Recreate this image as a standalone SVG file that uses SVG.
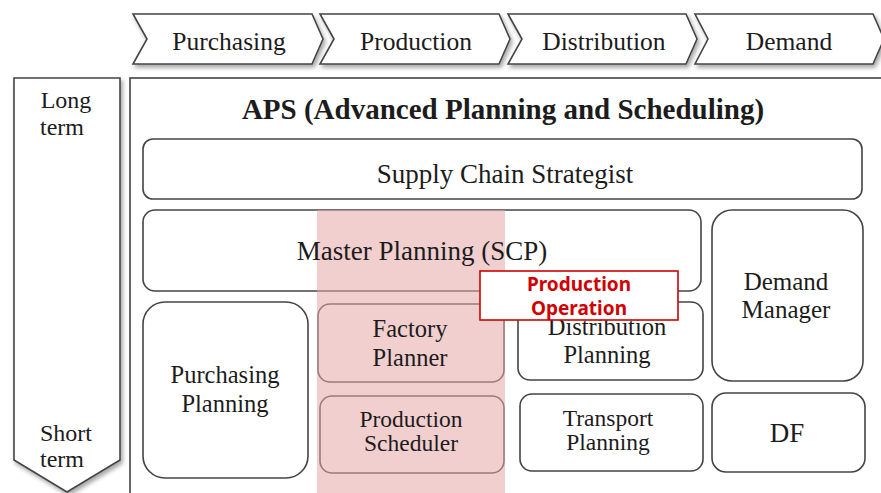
<svg xmlns="http://www.w3.org/2000/svg" width="881" height="493" viewBox="0 0 881 493">
<defs>
<filter id="sh" x="-10%" y="-10%" width="130%" height="130%">
<feDropShadow dx="2" dy="3" stdDeviation="2" flood-color="#000" flood-opacity="0.35"/>
</filter>
<style>
.t{fill:#1c1c1c;text-anchor:middle}
.c{font-size:25.5px}
.b{fill:#fff;stroke:#444;stroke-width:1.6}
.n{font-size:24.5px}
.m{font-size:23.5px}
.r{fill:#d00000;font-size:19px;font-weight:bold;text-anchor:middle}
</style>
</defs>
<rect width="881" height="493" fill="#fff"/>
<g font-family="Liberation Serif, Times New Roman, serif">
<g id="phases">
<g id="chev-purchasing"><path class="b" filter="url(#sh)" d="M133,14 H312 L323,39 L312,64 H133 L147,39 Z"/><text class="t c" x="229" y="50">Purchasing</text></g>
<g id="chev-production"><path class="b" filter="url(#sh)" d="M320,14 H499 L510,39 L499,64 H320 L334,39 Z"/><text class="t c" x="416" y="50">Production</text></g>
<g id="chev-distribution"><path class="b" filter="url(#sh)" d="M508,14 H686 L697,39 L686,64 H508 L522,39 Z"/><text class="t c" x="604" y="50">Distribution</text></g>
<g id="chev-demand"><path class="b" filter="url(#sh)" d="M695,14 H873 L884,39 L873,64 H695 L708,39 Z"/><text class="t c" x="789" y="50">Demand</text></g>
</g>
<g id="term-arrow">
<path class="b" filter="url(#sh)" d="M14,78 H120 V460 L67,492 L14,460 Z"/>
<text class="t" font-size="24" x="66" y="108">Long</text>
<text class="t" font-size="24" x="62" y="135">term</text>
<text class="t" font-size="24" x="66" y="441">Short</text>
<text class="t" font-size="24" x="62" y="467">term</text>
</g>
<g id="aps-frame">
<rect x="130" y="78" width="760" height="430" fill="#fff" stroke="#444" stroke-width="1.6"/>
<text class="t" x="503" y="119" font-size="29" font-weight="bold">APS (Advanced Planning and Scheduling)</text>
</g>
<g id="supply-chain-strategist">
<rect class="b" x="143" y="139" width="719" height="60" rx="10"/>
<text class="t" font-size="27" x="505" y="183">Supply Chain Strategist</text>
</g>
<g id="master-planning">
<rect class="b" x="143" y="210" width="558" height="81" rx="12"/>
</g>
<g id="purchasing-planning">
<rect class="b" x="143" y="302" width="165" height="176" rx="22"/>
<text class="t n" x="225" y="383">Purchasing</text>
<text class="t n" x="225" y="412">Planning</text>
</g>
<g id="factory-planner">
<rect class="b" x="318" y="304" width="186" height="78" rx="12"/>
</g>
<g id="production-scheduler">
<rect class="b" x="320" y="396" width="184" height="77" rx="12"/>
</g>
<rect id="production-band" x="317" y="210" width="188" height="290" fill="#e8a8a8" fill-opacity="0.55"/>
<text class="t" font-size="27" x="422" y="260">Master Planning (SCP)</text>
<text class="t n" x="410" y="337">Factory</text>
<text class="t n" x="410" y="366">Planner</text>
<text class="t m" x="411" y="427">Production</text>
<text class="t m" x="411" y="451">Scheduler</text>
<g id="distribution-planning">
<rect class="b" x="518" y="302" width="185" height="78" rx="12"/>
<text class="t n" x="607" y="335">Distribution</text>
<text class="t n" x="607" y="363">Planning</text>
</g>
<g id="transport-planning">
<rect class="b" x="520" y="394" width="183" height="77" rx="12"/>
<text class="t m" x="608" y="426">Transport</text>
<text class="t m" x="608" y="450">Planning</text>
</g>
<g id="demand-manager">
<rect class="b" x="712" y="210" width="151" height="171" rx="20"/>
<text class="t" font-size="25" x="786" y="290">Demand</text>
<text class="t" font-size="25" x="786" y="318">Manager</text>
</g>
<g id="df">
<rect class="b" x="712" y="393" width="153" height="79" rx="14"/>
<text class="t" font-size="27" x="787" y="442">DF</text>
</g>
</g>
<g id="production-operation" font-family="Noto Sans, Liberation Sans, sans-serif">
<rect x="480" y="271" width="198" height="49" fill="#fff" stroke="#d00000" stroke-width="1.6"/>
<text class="r" x="579" y="291">Production</text>
<text class="r" x="579" y="315">Operation</text>
</g>
<g id="connectors"/>
</svg>
